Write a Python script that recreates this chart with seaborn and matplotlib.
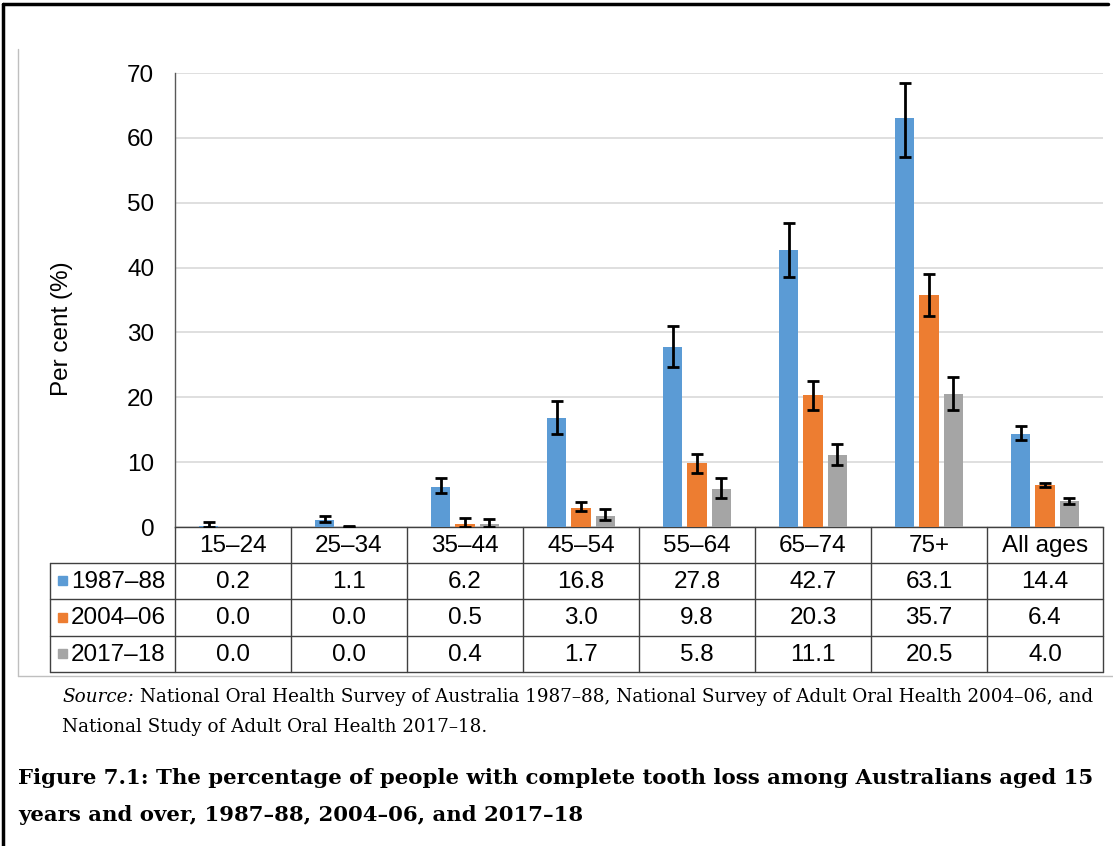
import numpy as np
import pandas as pd
import matplotlib
matplotlib.use('Agg')
import matplotlib.pyplot as plt
import seaborn as sns
from matplotlib.lines import Line2D
from matplotlib.patches import Rectangle
from matplotlib.transforms import blended_transform_factory

# data
ages = ['15–24', '25–34', '35–44', '45–54', '55–64', '65–74', '75+', 'All ages']
periods = ['1987–88', '2004–06', '2017–18']
pct_1987 = [0.2, 1.1, 6.2, 16.8, 27.8, 42.7, 63.1, 14.4]
pct_2004 = [0.0, 0.0, 0.5, 3.0, 9.8, 20.3, 35.7, 6.4]
pct_2017 = [0.0, 0.0, 0.4, 1.7, 5.8, 11.1, 20.5, 4.0]
# 95% CI bounds (estimated from the error bars)
lo_1987 = [0.0, 0.7, 5.2, 14.3, 24.7, 38.6, 57.1, 13.4]
hi_1987 = [0.7, 1.7, 7.5, 19.5, 31.0, 46.8, 68.4, 15.6]
lo_2004 = [0.0, 0.0, 0.0, 2.5, 8.4, 18.0, 32.5, 6.1]
hi_2004 = [0.0, 0.1, 1.4, 3.9, 11.2, 22.5, 39.0, 6.8]
lo_2017 = [0.0, 0.0, 0.0, 1.1, 4.4, 9.6, 18.1, 3.6]
hi_2017 = [0.0, 0.0, 1.2, 2.7, 7.5, 12.8, 23.2, 4.5]
colors = ['#5B9BD5', '#ED7D31', '#A5A5A5']

values = [pct_1987, pct_2004, pct_2017]
lows = [lo_1987, lo_2004, lo_2017]
highs = [hi_1987, hi_2004, hi_2017]

df = pd.DataFrame({
    'age': ages * 3,
    'period': np.repeat(periods, len(ages)),
    'pct': pct_1987 + pct_2004 + pct_2017,
})

sns.set_style('white')
plt.rcParams['font.family'] = ['Liberation Sans', 'DejaVu Sans']
plt.rcParams['text.color'] = 'black'
fs = 17.5

W, H = 1113, 846
fig = plt.figure(figsize=(W / 100, H / 100), dpi=100)


def fx(x):
    return x / W


def fy(y):
    return 1 - y / H


ax = fig.add_axes([fx(175), fy(527), fx(1103) - fx(175), fy(73) - fy(527)])
sns.barplot(data=df, x='age', y='pct', hue='period', order=ages, hue_order=periods,
            palette=colors, saturation=1, width=0.633, gap=0.2, errorbar=None, linewidth=0,
            legend=False, ax=ax, zorder=3)

# error bars on the bar centres
for cont, v, lo, hi in zip(ax.containers, values, lows, highs):
    for bar, val, l, h in zip(cont, v, lo, hi):
        if h - l <= 0:
            continue
        xc = bar.get_x() + bar.get_width() / 2
        ax.errorbar(xc, val, yerr=[[val - l], [h - val]], fmt='none', ecolor='black',
                    elinewidth=2, capsize=4, capthick=2, zorder=4)

ax.set_xlim(-0.5, len(ages) - 0.5)
ax.set_ylim(0, 70)
ax.set_yticks(range(0, 71, 10))
ax.yaxis.grid(True, color='#D9D9D9', linewidth=1.2, zorder=0)
ax.set_axisbelow(True)
ax.tick_params(axis='y', length=0, pad=15, labelsize=fs, colors='black')
ax.set_xticks([])
ax.set_xlabel('')
ax.set_ylabel('')
for s in ['top', 'right']:
    ax.spines[s].set_visible(False)
ax.spines['left'].set_color('#595959')
ax.spines['left'].set_linewidth(1.0)
ax.spines['bottom'].set_color('#404040')
ax.spines['bottom'].set_linewidth(1.0)

fig.text(fx(62), fy(329), 'Per cent (%)', rotation=90, ha='center', va='center', fontsize=fs)

# data table under the axis
lc = '#404040'
row_y = [527, 563, 599, 636, 672]
for y in row_y[1:]:
    fig.add_artist(Line2D([fx(50), fx(1103)], [fy(y), fy(y)], color=lc, lw=1.0))
fig.add_artist(Line2D([fx(50), fx(50)], [fy(563), fy(672)], color=lc, lw=1.0))
blend = blended_transform_factory(ax.transData, fig.transFigure)
for i in range(len(ages) + 1):
    fig.add_artist(Line2D([i - 0.5, i - 0.5], [fy(527), fy(672)], color=lc, lw=1.0,
                          transform=blend))
for i, a in enumerate(ages):
    fig.text(i, fy(546), a, transform=blend, ha='center', va='center', fontsize=fs)
for r, (p, v, c) in enumerate(zip(periods, values, colors)):
    yc = (row_y[r + 1] + row_y[r + 2]) / 2
    fig.add_artist(Rectangle((fx(58), fy(yc + 4)), fx(9), fy(0) - fy(9), color=c))
    fig.text(fx(71), fy(yc + 1), p, ha='left', va='center', fontsize=fs)
    for i, val in enumerate(v):
        fig.text(i, fy(yc + 1), f'{val:.1f}', transform=blend, ha='center', va='center',
                 fontsize=fs)

# frames
fig.add_artist(Line2D([fx(18), fx(18)], [fy(49), fy(676)], color='#BFBFBF', lw=1.0))
fig.add_artist(Line2D([fx(18), fx(1113)], [fy(676), fy(676)], color='#BFBFBF', lw=1.0))
fig.add_artist(Line2D([fx(3), fx(3)], [fy(4), fy(846)], color='black', lw=2.5))
fig.add_artist(Line2D([fx(3), fx(1108)], [fy(4), fy(4)], color='black', lw=2.5))

# source and caption
serif = ['DejaVu Serif']
sfs = 13.2
t1 = fig.text(fx(62), fy(697), 'Source:', ha='left', va='center', fontsize=sfs,
              style='italic', family=serif)
ax.annotate(' National Oral Health Survey of Australia 1987–88, National Survey of Adult Oral Health 2004–06, and',
            xy=(1, 0), xycoords=t1, ha='left', va='bottom', fontsize=sfs, family=serif,
            color='black', annotation_clip=False)
fig.text(fx(62), fy(727), 'National Study of Adult Oral Health 2017–18.', ha='left', va='center',
         fontsize=sfs, family=serif)
fig.text(fx(18), fy(778), 'Figure 7.1: The percentage of people with complete tooth loss among Australians aged 15',
         ha='left', va='center', fontsize=15.3, fontweight='bold', family=serif)
fig.text(fx(18), fy(815), 'years and over, 1987–88, 2004–06, and 2017–18',
         ha='left', va='center', fontsize=15.3, fontweight='bold', family=serif)

fig.savefig('out.png', dpi=100)
